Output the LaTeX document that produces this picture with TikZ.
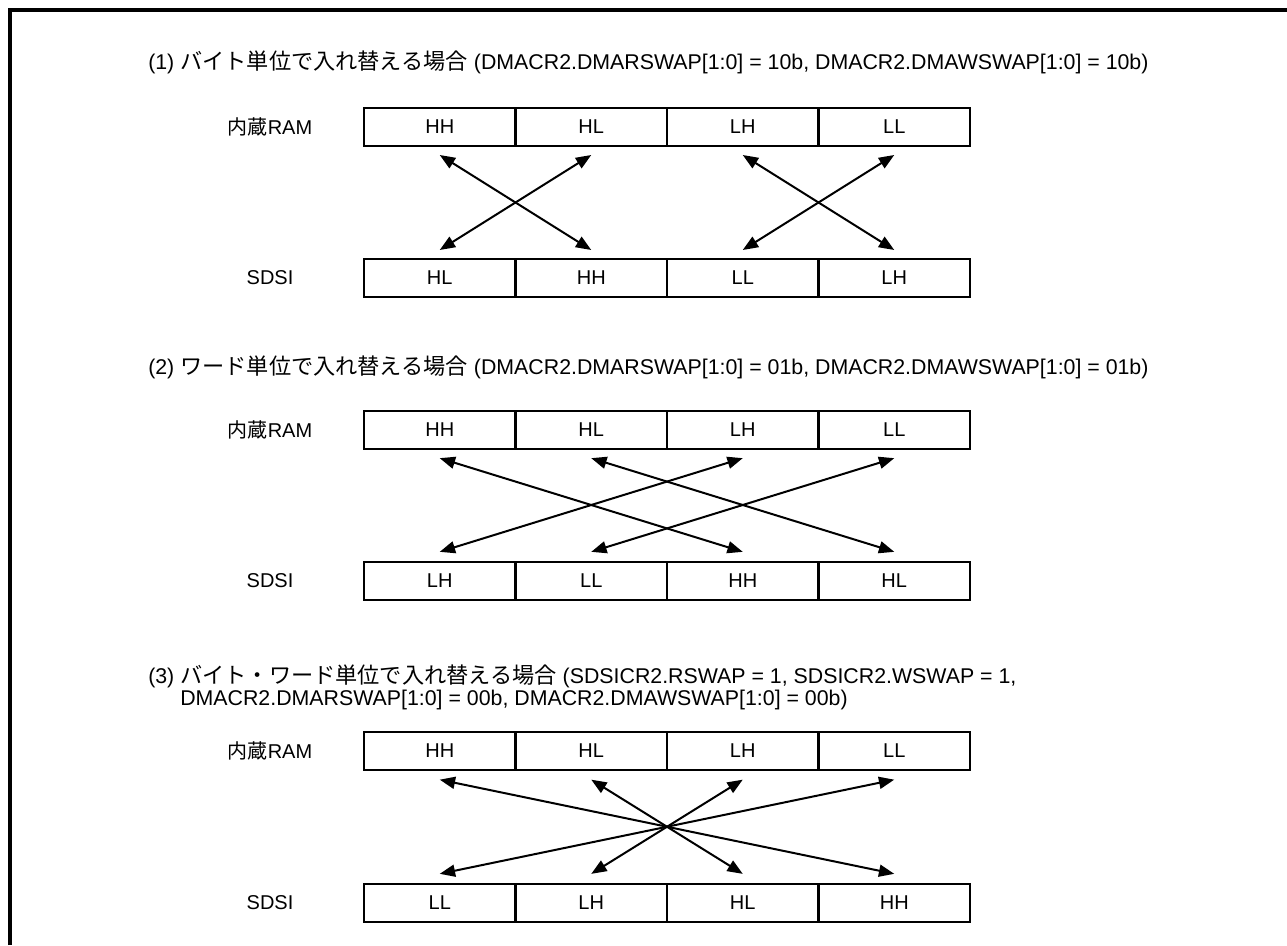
\documentclass[tikz,border=0pt]{standalone}
\usepackage{fontspec}
\setmainfont{Liberation Sans}
\newfontfamily\jp{Noto Sans CJK JP}
\newfontfamily\jpt[Scale=1.04]{Noto Sans CJK JP}
\usetikzlibrary{arrows.meta}
\tikzset{
  cell/.style={draw, line width=1.5pt, minimum width=113.6pt, minimum height=28.5pt, inner sep=0pt, font=\fontsize{15}{18}\selectfont},
  lbl/.style={font=\fontsize{15}{18}\selectfont, inner sep=0pt},
  ttl/.style={font=\fontsize{16}{19}\selectfont, inner sep=0pt, anchor=west},
  dbl/.style={line width=1.5pt, {Triangle[length=11.5pt,width=9pt]}-{Triangle[length=11.5pt,width=9pt]}},
  frame/.style={line width=2.8pt}
}
\begin{document}
\begin{tikzpicture}[x=0.75pt,y=-0.75pt]
\useasboundingbox (0,0) rectangle (1287,945);
\draw[frame] (10,945) -- (10,10) -- (1287,10);

% titles
\node[ttl] (t1) at (148,62) {(1) {\jpt バイト単位で入れ替える場合} (DMACR2.DMARSWAP[1:0] = 10b, DMACR2.DMAWSWAP[1:0] = 10b)};
\node[ttl] (t2) at (148,367) {(2) {\jpt ワード単位で入れ替える場合} (DMACR2.DMARSWAP[1:0] = 01b, DMACR2.DMAWSWAP[1:0] = 01b)};
\node[ttl] (t3a) at (148,676) {(3) {\jpt バイト・ワード単位で入れ替える場合} (SDSICR2.RSWAP = 1, SDSICR2.WSWAP = 1,};
\node[ttl] (t3b) at (180,700) {DMACR2.DMARSWAP[1:0] = 00b, DMACR2.DMAWSWAP[1:0] = 00b)};

% row labels
\node[lbl] (l1t) at (270,127) {{\jp 内蔵}RAM};
\node[lbl] (l1b) at (270,278) {SDSI};
\node[lbl] (l2t) at (270,429.5) {{\jp 内蔵}RAM};
\node[lbl] (l2b) at (270,580.5) {SDSI};
\node[lbl] (l3t) at (270,751) {{\jp 内蔵}RAM};
\node[lbl] (l3b) at (270,902.5) {SDSI};

% row 1
\node[cell] (a1) at (439.75,127) {HH};
\node[cell] (a2) at (591.25,127) {HL};
\node[cell] (a3) at (742.75,127) {LH};
\node[cell] (a4) at (894.25,127) {LL};
\node[cell] (b1) at (439.75,278) {HL};
\node[cell] (b2) at (591.25,278) {HH};
\node[cell] (b3) at (742.75,278) {LL};
\node[cell] (b4) at (894.25,278) {LH};
\draw[dbl] ([yshift=-6pt]a1.south) -- ([yshift=6pt]b2.north);
\draw[dbl] ([yshift=-6pt]a2.south) -- ([yshift=6pt]b1.north);
\draw[dbl] ([yshift=-6pt]a3.south) -- ([yshift=6pt]b4.north);
\draw[dbl] ([yshift=-6pt]a4.south) -- ([yshift=6pt]b3.north);

% row 2
\node[cell] (c1) at (439.75,429.5) {HH};
\node[cell] (c2) at (591.25,429.5) {HL};
\node[cell] (c3) at (742.75,429.5) {LH};
\node[cell] (c4) at (894.25,429.5) {LL};
\node[cell] (d1) at (439.75,580.5) {LH};
\node[cell] (d2) at (591.25,580.5) {LL};
\node[cell] (d3) at (742.75,580.5) {HH};
\node[cell] (d4) at (894.25,580.5) {HL};
\draw[dbl] ([yshift=-6.5pt]c1.south) -- ([yshift=6.5pt]d3.north);
\draw[dbl] ([yshift=-6.5pt]c2.south) -- ([yshift=6.5pt]d4.north);
\draw[dbl] ([yshift=-6.5pt]c3.south) -- ([yshift=6.5pt]d1.north);
\draw[dbl] ([yshift=-6.5pt]c4.south) -- ([yshift=6.5pt]d2.north);

% row 3
\node[cell] (e1) at (439.75,751) {HH};
\node[cell] (e2) at (591.25,751) {HL};
\node[cell] (e3) at (742.75,751) {LH};
\node[cell] (e4) at (894.25,751) {LL};
\node[cell] (f1) at (439.75,902.5) {LL};
\node[cell] (f2) at (591.25,902.5) {LH};
\node[cell] (f3) at (742.75,902.5) {HL};
\node[cell] (f4) at (894.25,902.5) {HH};
\draw[dbl] ([yshift=-6.5pt]e1.south) -- ([yshift=6.5pt]f4.north);
\draw[dbl] ([yshift=-6.5pt]e2.south) -- ([yshift=6.5pt]f3.north);
\draw[dbl] ([yshift=-6.5pt]e3.south) -- ([yshift=6.5pt]f2.north);
\draw[dbl] ([yshift=-6.5pt]e4.south) -- ([yshift=6.5pt]f1.north);
\end{tikzpicture}
\end{document}
